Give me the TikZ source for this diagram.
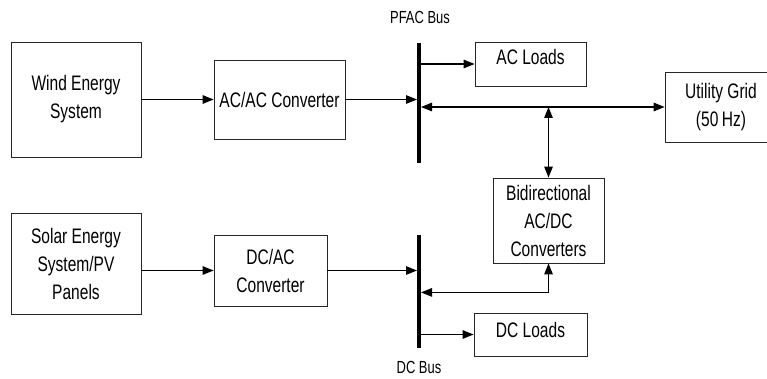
\documentclass[tikz,border=0pt]{standalone}
\usepackage{fontspec}
\setmainfont{Liberation Sans}[FakeStretch=0.74]
\usetikzlibrary{arrows.meta}
\begin{document}
\begin{tikzpicture}[x=1pt,y=-1pt,
  blk/.style={draw=black!85,line width=0.8pt,rectangle,inner sep=0pt,align=center,
    font=\fontsize{21}{28}\selectfont},
  busbar/.style={fill=black,draw=none,rectangle,inner sep=0pt,minimum width=3.6pt},
  buslbl/.style={font=\fontsize{17.5}{19}\selectfont,inner sep=0pt},
  tip/.tip={Triangle[length=11pt,width=8.5pt]},
  arr/.style={line width=1.2pt,-tip},
  darr/.style={line width=1.2pt,tip-tip}]
\useasboundingbox (0,0) rectangle (767,379);
% blocks
\node[blk,minimum width=130pt,minimum height=115pt] (wind) at (76,99.5) {Wind Energy\\System};
\node[blk,minimum width=131pt,minimum height=79pt] (acac) at (279.5,99.5) {AC/AC Converter};
\node[busbar,minimum height=120pt] (pfac) at (419,103) {};
\node[buslbl] (pfaclbl) at (420,17) {PFAC Bus};
\node[blk,minimum width=111pt,text height=15pt,text depth=13pt,inner ysep=8pt] (acl) at (530.5,64) {AC Loads};
\node[blk,minimum width=112pt,minimum height=70pt] (grid) at (721,107) {Utility Grid\\(50\,Hz)};
\node[blk,minimum width=111pt,minimum height=85pt] (bidir) at (548.5,220.5) {Bidirectional\\AC/DC\\Converters};
\node[blk,minimum width=130pt,minimum height=101pt] (solar) at (76,263.5) {Solar Energy\\System/PV\\Panels};
\node[blk,minimum width=113pt,minimum height=71pt] (dcac) at (270.5,270.5) {DC/AC\\Converter};
\node[busbar,minimum height=113pt] (dcbus) at (419,291.5) {};
\node[buslbl] (dclbl) at (419,367) {DC Bus};
\node[blk,minimum width=113pt,text height=15pt,text depth=9pt,inner ysep=9.5pt] (dcl) at (530.5,334.5) {DC Loads};
% connectors
\draw[arr] (wind) -- (acac);
\draw[arr] (acac.east) -- (acac.east -| pfac.west);
\draw[arr] (pfac.east |- acl.west) -- (acl.west);
\draw[darr] (pfac.east |- grid.west) -- (grid.west);
\coordinate (j) at (bidir.north |- grid.west);
\draw[darr] (j) -- (bidir.north);
\draw[arr] (solar.east |- dcac.west) -- (dcac.west);
\draw[arr] (dcac.east) -- (dcac.east -| dcbus.west);
\coordinate (k) at ([yshift=-29pt]bidir.south);
\draw[darr] (dcbus.east |- k) -| (bidir.south);
\draw[arr] (dcbus.east |- dcl.west) -- (dcl.west);
\end{tikzpicture}
\end{document}
